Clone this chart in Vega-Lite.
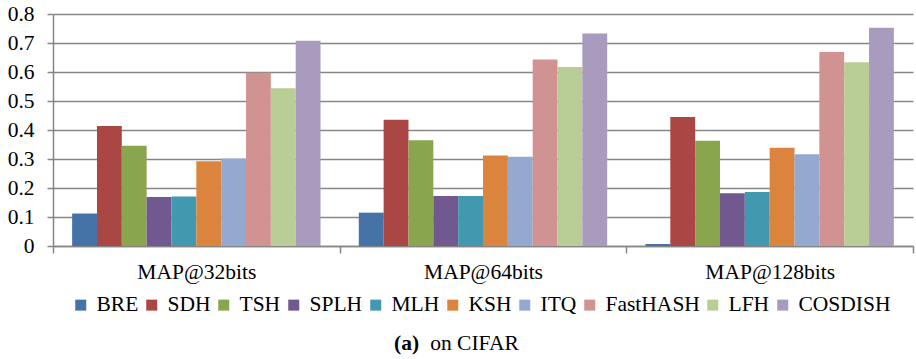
{
  "$schema": "https://vega.github.io/schema/vega-lite/v6.json",
  "width": 860,
  "height": 232,
  "autosize": {"type": "none"},
  "padding": {"left": 53, "top": 14, "right": 3, "bottom": 113},
  "background": "white",
  "config": {
    "view": {"stroke": null},
    "font": "Liberation Serif"
  },
  "data": {
    "values": [
      {"group": "MAP@32bits", "method": "BRE", "value": 0.112},
      {"group": "MAP@32bits", "method": "SDH", "value": 0.414},
      {"group": "MAP@32bits", "method": "TSH", "value": 0.346},
      {"group": "MAP@32bits", "method": "SPLH", "value": 0.169},
      {"group": "MAP@32bits", "method": "MLH", "value": 0.171},
      {"group": "MAP@32bits", "method": "KSH", "value": 0.292},
      {"group": "MAP@32bits", "method": "ITQ", "value": 0.302},
      {"group": "MAP@32bits", "method": "FastHASH", "value": 0.597},
      {"group": "MAP@32bits", "method": "LFH", "value": 0.544},
      {"group": "MAP@32bits", "method": "COSDISH", "value": 0.708},
      {"group": "MAP@64bits", "method": "BRE", "value": 0.115},
      {"group": "MAP@64bits", "method": "SDH", "value": 0.435},
      {"group": "MAP@64bits", "method": "TSH", "value": 0.365},
      {"group": "MAP@64bits", "method": "SPLH", "value": 0.172},
      {"group": "MAP@64bits", "method": "MLH", "value": 0.172},
      {"group": "MAP@64bits", "method": "KSH", "value": 0.312},
      {"group": "MAP@64bits", "method": "ITQ", "value": 0.308},
      {"group": "MAP@64bits", "method": "FastHASH", "value": 0.643},
      {"group": "MAP@64bits", "method": "LFH", "value": 0.617},
      {"group": "MAP@64bits", "method": "COSDISH", "value": 0.733},
      {"group": "MAP@128bits", "method": "BRE", "value": 0.007},
      {"group": "MAP@128bits", "method": "SDH", "value": 0.445},
      {"group": "MAP@128bits", "method": "TSH", "value": 0.363},
      {"group": "MAP@128bits", "method": "SPLH", "value": 0.182},
      {"group": "MAP@128bits", "method": "MLH", "value": 0.186},
      {"group": "MAP@128bits", "method": "KSH", "value": 0.339},
      {"group": "MAP@128bits", "method": "ITQ", "value": 0.316},
      {"group": "MAP@128bits", "method": "FastHASH", "value": 0.669},
      {"group": "MAP@128bits", "method": "LFH", "value": 0.634},
      {"group": "MAP@128bits", "method": "COSDISH", "value": 0.753}
    ]
  },
  "mark": {"type": "bar"},
  "encoding": {
    "x": {
      "field": "group",
      "type": "nominal",
      "sort": ["MAP@32bits", "MAP@64bits", "MAP@128bits"],
      "scale": {"paddingInner": 0, "paddingOuter": 0},
      "axis": {
        "title": "(a)",
        "titleFont": "Liberation Serif",
        "titleFontWeight": "bold",
        "titleFontSize": 21.5,
        "titleColor": "black",
        "titleX": 353,
        "titleY": 97,
        "titleAlign": "center",
        "titleBaseline": "middle",
        "labelFont": "Liberation Serif",
        "labelAngle": 0,
        "tickBand": "extent",
        "domainColor": "#868686",
        "domainWidth": 1.5,
        "tickColor": "#868686",
        "tickWidth": 1.5,
        "tickSize": 7,
        "labelFontSize": 21.5,
        "labelColor": "black",
        "labelPadding": 8,
        "grid": false
      }
    },
    "xOffset": {
      "field": "method",
      "type": "nominal",
      "sort": ["BRE", "SDH", "TSH", "SPLH", "MLH", "KSH", "ITQ", "FastHASH", "LFH", "COSDISH"],
      "scale": {"paddingInner": 0, "paddingOuter": 0.77}
    },
    "y": {
      "field": "value",
      "type": "quantitative",
      "scale": {"domain": [0, 0.8], "nice": false},
      "axis": {
        "title": "on CIFAR",
        "titleFont": "Liberation Serif",
        "titleAngle": 0,
        "titleFontWeight": "normal",
        "titleFontSize": 21.5,
        "titleColor": "black",
        "titleX": 421,
        "titleY": 329,
        "titleAlign": "center",
        "titleBaseline": "middle",
        "labelFont": "Liberation Serif",
        "values": [0, 0.1, 0.2, 0.3, 0.4, 0.5, 0.6, 0.7, 0.8],
        "format": ".1~f",
        "grid": true,
        "gridColor": "#868686",
        "gridWidth": 1.5,
        "domainColor": "#868686",
        "domainWidth": 1.5,
        "tickColor": "#868686",
        "tickWidth": 1.5,
        "tickSize": 6,
        "labelFontSize": 21.5,
        "labelColor": "black",
        "labelPadding": 13
      }
    },
    "color": {
      "field": "method",
      "type": "nominal",
      "sort": ["BRE", "SDH", "TSH", "SPLH", "MLH", "KSH", "ITQ", "FastHASH", "LFH", "COSDISH"],
      "scale": {
        "domain": ["BRE", "SDH", "TSH", "SPLH", "MLH", "KSH", "ITQ", "FastHASH", "LFH", "COSDISH"],
        "range": ["#4572A7", "#AA4643", "#89A54E", "#71588F", "#4198AF", "#DB843D", "#93A9CF", "#D19392", "#B9CD96", "#A99BBD"]
      },
      "legend": {
        "title": null,
        "orient": "none",
        "legendX": 17,
        "legendY": 280,
        "direction": "horizontal",
        "symbolType": "square",
        "symbolSize": 121,
        "symbolStrokeWidth": 0,
        "labelFont": "Liberation Serif",
        "labelFontSize": 21.5,
        "labelColor": "black",
        "labelOffset": 5,
        "columnPadding": 2
      }
    }
  }
}
